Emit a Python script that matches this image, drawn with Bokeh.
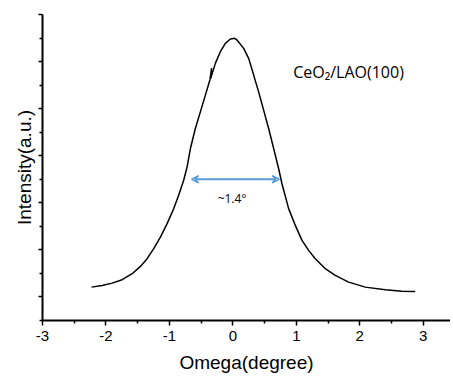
from bokeh.plotting import figure
from bokeh.models import FixedTicker, Arrow, VeeHead, Label, Range1d
from bokeh.embed import file_html
from bokeh.resources import INLINE

# Rocking curve data
omega = [-2.228, -2.060, -1.902, -1.745, -1.587, -1.457, -1.351, -1.247, -1.142, -1.036,
         -0.932, -0.854, -0.775, -0.721, -0.669, -0.591, -0.512, -0.433, -0.360, -0.335,
         -0.350, -0.276, -0.197, -0.118, -0.039, 0.028, 0.066, 0.170, 0.249, 0.328,
         0.406, 0.485, 0.564, 0.643, 0.721, 0.775, 0.879, 0.984, 1.090, 1.194,
         1.299, 1.457, 1.614, 1.824, 2.087, 2.402, 2.665, 2.874]
intensity = [0.209, 0.245, 0.294, 0.366, 0.494, 0.649, 0.813, 1.026, 1.272, 1.557,
             1.877, 2.160, 2.479, 2.762, 3.153, 3.579, 3.932, 4.287, 4.620, 4.860,
             4.640, 4.962, 5.209, 5.387, 5.479, 5.494, 5.457, 5.281, 5.068, 4.713,
             4.357, 3.968, 3.579, 3.153, 2.728, 2.400, 1.877, 1.521, 1.202, 0.989,
             0.813, 0.600, 0.457, 0.315, 0.209, 0.153, 0.123, 0.117]

x_ticks = [-3, -2, -1, 0, 1, 2, 3]
x_tick_labels = ["-3", "-2", "-1", "0", "1", "2", "3"]
x_minor = [-2.5, -1.5, -0.5, 0.5, 1.5, 2.5, 3.5]
y_ticks = [0, 1, 2, 3, 4, 5, 6]
y_minor = [-0.5, 0.5, 1.5, 2.5, 3.5, 4.5, 5.5]

fwhm_left, fwhm_right, half_max = -0.65, 0.73, 2.5
fwhm_text = "~1.4°"
sample_text = "CeO₂/LAO(100)"
sample_pos = (0.95, 4.78)
fwhm_text_pos = (-0.24, 2.1)

p = figure(width=450, height=375, output_backend="svg", toolbar_location=None,
           x_range=Range1d(-3, 3.43), y_range=Range1d(-0.5, 6.0),
           min_border_left=42, min_border_right=0, min_border_top=14, min_border_bottom=55)
p.outline_line_color = None
p.grid.visible = False
p.background_fill_color = "white"

p.line(omega, intensity, line_color="black", line_width=1.5)

p.add_layout(Arrow(start=VeeHead(size=7, line_color="#5b9bd5", line_width=1.5, fill_color=None),
                   end=VeeHead(size=7, line_color="#5b9bd5", line_width=1.5, fill_color=None),
                   x_start=fwhm_left, y_start=half_max, x_end=fwhm_right, y_end=half_max,
                   line_color="#5b9bd5", line_width=2))

p.add_layout(Label(x=fwhm_text_pos[0], y=fwhm_text_pos[1], text=fwhm_text,
                   text_font="Open Sans", text_font_size="12px", text_baseline="middle",
                   text_color="black"))
p.add_layout(Label(x=sample_pos[0], y=sample_pos[1], text=sample_text,
                   text_font="Open Sans", text_font_size="16px", text_baseline="middle",
                   text_color="black"))

xa = p.xaxis[0]
xa.ticker = FixedTicker(ticks=x_ticks, minor_ticks=x_minor)
xa.major_label_overrides = dict(zip(x_ticks, x_tick_labels))
xa.axis_label = "Omega(degree)"
xa.axis_label_text_font = "Liberation Sans"
xa.axis_label_text_font_style = "normal"
xa.axis_label_text_font_size = "19px"
xa.axis_label_text_color = "black"
xa.axis_label_standoff = 8
xa.major_label_text_font = "Liberation Sans"
xa.major_label_text_font_size = "15px"
xa.major_label_text_color = "black"
xa.major_label_standoff = 5
xa.axis_line_width = 2
xa.axis_line_color = "black"
xa.major_tick_out = 5
xa.major_tick_in = 0
xa.minor_tick_out = 3
xa.minor_tick_in = 0
xa.major_tick_line_width = 1.5
xa.minor_tick_line_width = 1.5

ya = p.yaxis[0]
ya.ticker = FixedTicker(ticks=y_ticks, minor_ticks=y_minor)
ya.major_label_overrides = {t: "" for t in y_ticks}
ya.axis_label = "Intensity(a.u.)"
ya.axis_label_text_font = "Liberation Sans"
ya.axis_label_text_font_style = "normal"
ya.axis_label_text_font_size = "19px"
ya.axis_label_text_color = "black"
ya.axis_label_standoff = 4
ya.major_label_standoff = 0
ya.axis_line_width = 2
ya.axis_line_color = "black"
ya.major_tick_out = 4
ya.major_tick_in = 0
ya.minor_tick_out = 3
ya.minor_tick_in = 0
ya.major_tick_line_width = 1.5
ya.minor_tick_line_width = 1.5

open("out.html", "w").write(file_html(p, INLINE))
